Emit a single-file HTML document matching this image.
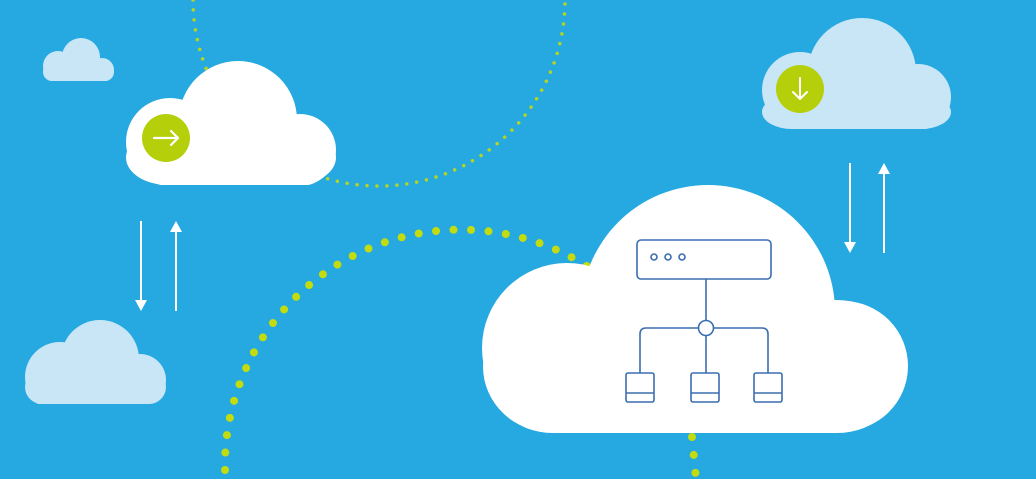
<!DOCTYPE html>
<html><head><meta charset="utf-8"><style>
html,body{margin:0;padding:0;background:#25a9e0;}
svg{display:block;}
</style></head><body>
<svg width="1036" height="479" viewBox="0 0 1036 479" xmlns="http://www.w3.org/2000/svg">
<defs>
<clipPath id="c1"><rect x="0" y="0" width="200" height="81"/></clipPath>
<clipPath id="c2"><rect x="0" y="250" width="220" height="154"/></clipPath>
<clipPath id="c3"><rect x="700" y="0" width="336" height="129"/></clipPath>
<clipPath id="c4"><rect x="100" y="0" width="260" height="185"/></clipPath>
<clipPath id="c5"><rect x="450" y="150" width="500" height="283"/></clipPath>
</defs>
<rect width="1036" height="479" fill="#25a9e0"/>
<path d="M193 0 A186 186 0 0 0 565 0" fill="none" stroke="#b5d51f" stroke-width="3.5" stroke-linecap="round" stroke-dasharray="0 10"/>
<path d="M225 470 A236 236 0 0 1 600 275" fill="none" stroke="#c3dc0f" stroke-width="8" stroke-linecap="round" stroke-dasharray="0 17.5"/>
<path d="M692 437 L696 479" fill="none" stroke="#c3dc0f" stroke-width="8" stroke-linecap="round" stroke-dasharray="0 18"/>
<g fill="#c8e6f5" clip-path="url(#c1)">
<circle cx="81" cy="57" r="19"/><circle cx="58" cy="66" r="15"/><circle cx="102" cy="70" r="12"/><rect x="43" y="62" width="71" height="19" rx="9"/>
</g>
<g fill="#c8e6f5" clip-path="url(#c2)">
<circle cx="100" cy="359" r="39"/><circle cx="60" cy="377" r="35"/><circle cx="140" cy="380" r="26"/><rect x="25" y="370" width="141" height="34" rx="17"/>
</g>
<g fill="#c8e6f5" clip-path="url(#c3)">
<circle cx="862" cy="72" r="54"/><circle cx="800" cy="90" r="38"/><circle cx="918" cy="97" r="33"/><rect x="762" y="95" width="189" height="34" rx="30"/>
</g>
<circle cx="800" cy="89" r="24" fill="#b5cf0b"/>
<path d="M800 78 V98 M793 92 L800 99 L807 92" stroke="#fff" stroke-width="2" fill="none" stroke-linecap="round" stroke-linejoin="round"/>
<g fill="#fff" clip-path="url(#c4)">
<circle cx="238" cy="120" r="59"/><circle cx="170" cy="142" r="44"/><circle cx="300" cy="150" r="36"/><rect x="126" y="130" width="210" height="55" rx="42"/>
</g>
<circle cx="166" cy="138" r="24" fill="#b5cf0b"/>
<path d="M154 138 H178 M171 131 L178 138 L171 145" stroke="#fff" stroke-width="2.2" fill="none" stroke-linecap="round" stroke-linejoin="round"/>
<g fill="#fff" clip-path="url(#c5)">
<circle cx="708" cy="312" r="127"/><circle cx="567" cy="348" r="85"/><circle cx="843" cy="366" r="65"/><rect x="483" y="300" width="424" height="133" rx="70"/>
</g>
<g stroke="#3c6db0" stroke-width="1.6" fill="none">
<rect x="637" y="240" width="134" height="39" rx="4"/>
<circle cx="654" cy="257" r="3"/><circle cx="668" cy="257" r="3"/><circle cx="682" cy="257" r="3"/>
<path d="M706 279 V320.5"/>
<circle cx="706" cy="328" r="7.5"/>
<path d="M698.5 328 H646 Q640 328 640 334 V373"/>
<path d="M713.5 328 H762 Q768 328 768 334 V373"/>
<path d="M706 335.5 V373"/>
<rect x="626" y="373" width="28" height="29" rx="2"/><path d="M626 393 H654"/>
<rect x="691" y="373" width="28" height="29" rx="2"/><path d="M691 393 H719"/>
<rect x="754" y="373" width="28" height="29" rx="2"/><path d="M754 393 H782"/>
</g>
<g stroke="#fff" stroke-width="2" fill="#fff">
<path d="M141 221 V302"/><path d="M135 300 L141 311 L147 300 Z" stroke="none"/>
<path d="M176 230 V311"/><path d="M170 232 L176 221 L182 232 Z" stroke="none"/>
<path d="M850 163 V244"/><path d="M844 242 L850 253 L856 242 Z" stroke="none"/>
<path d="M884 172 V253"/><path d="M878 174 L884 163 L890 174 Z" stroke="none"/>
</g>
</svg>
</body></html>
